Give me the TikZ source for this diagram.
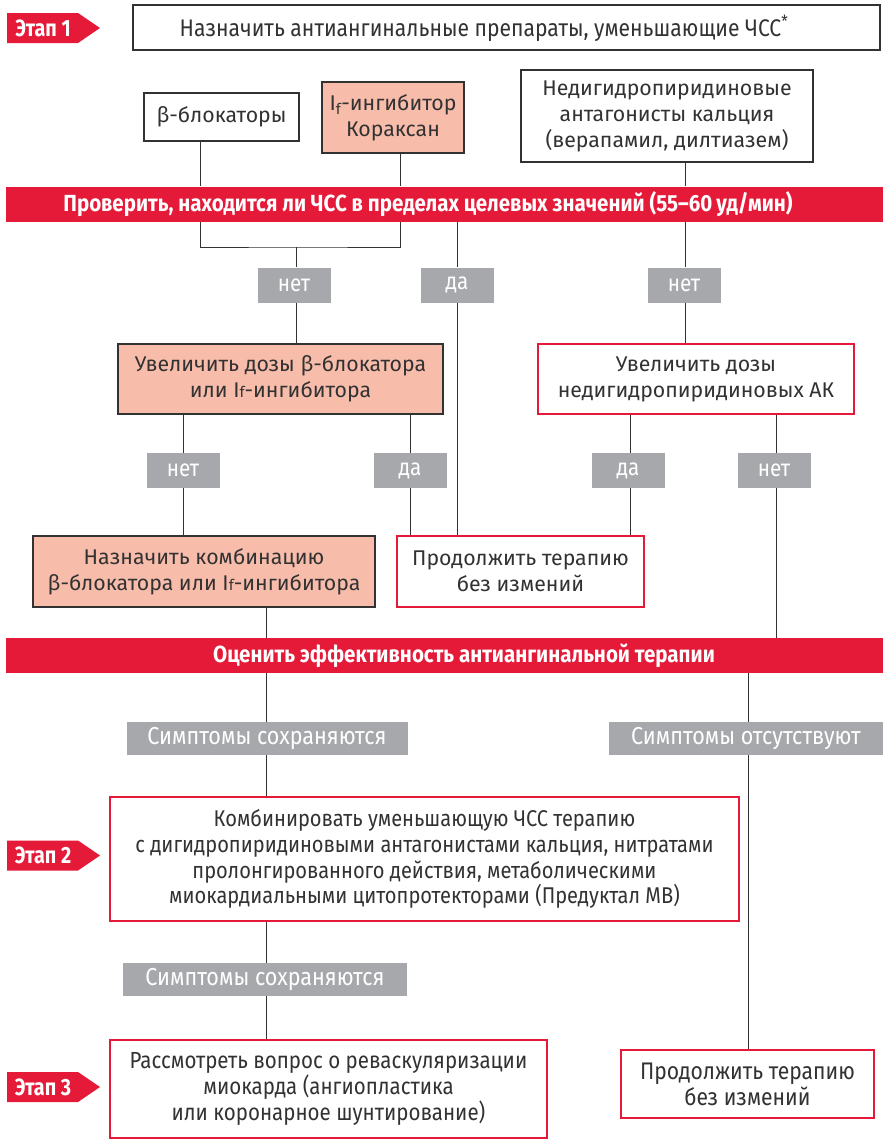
\documentclass[tikz,border=0pt]{standalone}
\usepackage{fontspec}
\setmainfont{Fira Sans}
\newfontfamily\condf{Fira Sans}[FakeStretch=0.88]
\newfontfamily\tagf{Fira Sans}[FakeStretch=0.84]
\definecolor{rd}{RGB}{228,26,56}
\definecolor{sal}{RGB}{248,188,171}
\definecolor{gr}{RGB}{166,168,171}
\definecolor{dk}{RGB}{50,50,50}
\newcommand\stagetag[3]{% name, y-centre, text
  \fill[rd] (7,#2-15) -- (78,#2-15) -- (100,#2) -- (78,#2+15) -- (7,#2+15) -- cycle;
  \node[tagtext] (#1) at (43,#2) {#3};}
\begin{document}
\begin{tikzpicture}[x=1pt,y=-1pt,
  box/.style={draw=dk, line width=1.3pt, fill=white, inner sep=0pt, align=center,
    font=\fontsize{21.3}{26}\selectfont, text=dk},
  salbox/.style={box, fill=sal},
  redbox/.style={box, draw=rd, line width=1.1pt},
  cbox/.style={redbox, font=\condf\fontsize{22.8}{25.8}\selectfont},
  lab/.style={fill=gr, text=white, inner sep=0pt, minimum height=33pt,
    font=\condf\fontsize{23.5}{24}\selectfont},
  clab/.style={lab, font=\condf\fontsize{24.5}{26}\selectfont},
  bar/.style={fill=rd, minimum width=877pt, minimum height=35pt, inner sep=0pt},
  bartext/.style={text=white, font=\condf\bfseries\fontsize{23.3}{25}\selectfont, inner sep=0pt},
  tagtext/.style={text=white, inner sep=0pt, font=\tagf\bfseries\fontsize{23.5}{24}\selectfont},
  conn/.style={draw=dk, line width=1pt}]
\fill[white] (0,0) rectangle (883,1141);
\useasboundingbox (0,0) rectangle (883,1141);
% columns
\coordinate (cA) at (200,0);
\coordinate (cB) at (400,0);
\coordinate (cC) at (296,0);
\coordinate (cD) at (457,0);
\coordinate (cE) at (685,0);
\coordinate (cF) at (183,0);
\coordinate (cG) at (410,0);
\coordinate (cH) at (630,0);
\coordinate (cI) at (776,0);
\coordinate (cJ) at (266,0);
\coordinate (cK) at (748,0);
\coordinate (jm) at (296,247);
% stage 1
\stagetag{tag1}{28}{Этап 1}
\node[box, minimum width=747pt, minimum height=45pt] (top) at (506.5,27.5) {};
\node[font=\condf\fontsize{24}{26}\selectfont, text=dk, inner sep=0pt] (toptxt) at (484,28)
  {Назначить антиангинальные препараты, уменьшающие ЧСС\textsuperscript{*}};
\node[box, minimum width=155pt, minimum height=48pt] (bb) at (221.5,117) {β-блокаторы};
\node[salbox, minimum width=142pt, minimum height=71pt] (ifb) at (393,117.5)
  {I\textsubscript{f}-ингибитор\\Кораксан};
\node[box, minimum width=292pt, minimum height=92pt] (ndp) at (667,116)
  {Недигидропиридиновые\\антагонисты кальция\\(верапамил, дилтиазем)};
\node[bar] (bar1) at (444.5,204) {};
\node[bartext] (bar1txt) at (428,204)
  {Проверить, находится ли ЧСС в пределах целевых значений (55–60\,уд/мин)};
\node[lab, minimum width=73pt, minimum height=35pt] (n1) at (294,285) {нет};
\node[lab, minimum width=73pt, minimum height=35pt] (d1) at (457,285) {да};
\node[lab, minimum width=73pt, minimum height=35pt] (n2) at (684,285) {нет};
\node[salbox, minimum width=325pt, minimum height=70pt] (inc1) at (280.5,379)
  {Увеличить дозы β-блокатора\\или I{\fontsize{15}{15}\selectfont f}-ингибитора};
\node[redbox, minimum width=316pt, minimum height=70pt] (inc2) at (696,379)
  {Увеличить дозы\\недигидропиридиновых АК};
\node[lab, minimum width=73pt, minimum height=35pt] (n3) at (183,470.5) {нет};
\node[lab, minimum width=73pt, minimum height=35pt] (d2) at (410,470.5) {да};
\node[lab, minimum width=73pt, minimum height=35pt] (d3) at (628,470.5) {да};
\node[lab, minimum width=73pt, minimum height=35pt] (n4) at (774,470.5) {нет};
\node[salbox, minimum width=342pt, minimum height=71pt] (comb) at (204,571.5)
  {Назначить комбинацию\\β-блокатора или I{\fontsize{15}{15}\selectfont f}-ингибитора};
\node[redbox, minimum width=247pt, minimum height=71pt] (cont1) at (520.5,571.5)
  {Продолжить терапию\\без измений};
\node[bar] (bar2) at (444.5,655.5) {};
\node[bartext] (bar2txt) at (464,656) {Оценить эффективность антиангинальной терапии};
\node[clab, minimum width=281pt] (s1) at (267,738.5) {Симптомы сохраняются};
\node[clab, minimum width=274pt] (s2) at (746,738.5) {Симптомы отсутствуют};
\stagetag{tag2}{855.5}{Этап 2}
\node[cbox, minimum width=629pt, minimum height=124pt] (comb2) at (424.5,859)
  {Комбинировать уменьшающую ЧСС терапию\\с дигидропиридиновыми антагонистами кальция, нитратами\\пролонгированного действия, метаболическими\\миокардиальными цитопротекторами (Предуктал МВ)};
\node[clab, minimum width=284pt] (s3) at (265,979.5) {Симптомы сохраняются};
\stagetag{tag3}{1087}{Этап 3}
\node[cbox, font=\condf\fontsize{23.3}{26}\selectfont, minimum width=437pt, minimum height=98pt] (rev) at (328.5,1089)
  {Рассмотреть вопрос о реваскуляризации\\миокарда (ангиопластика\\или коронарное шунтирование)};
\node[cbox, font=\condf\fontsize{24}{26}\selectfont, minimum width=253pt, minimum height=68pt] (cont2) at (747.5,1084)
  {Продолжить терапию\\без измений};
% connectors
\draw[conn] (bb.south -| cA) -- (bar1.north -| cA);
\draw[conn] (ifb.south -| cB) -- (bar1.north -| cB);
\draw[conn] (ndp.south -| cE) -- (bar1.north -| cE);
\draw[conn] (bar1.south -| cA) |- (jm) -| (bar1.south -| cB);
\draw[conn] (jm) -- (n1.north -| cC);
\draw[conn] (n1.south -| cC) -- (inc1.north -| cC);
\draw[conn] (bar1.south -| cD) -- (d1.north);
\draw[conn] (d1.south) -- (cont1.north -| cD);
\draw[conn] (bar1.south -| cE) -- (n2.north -| cE);
\draw[conn] (n2.south -| cE) -- (inc2.north -| cE);
\draw[conn] (inc1.south -| cF) -- (n3.north);
\draw[conn] (n3.south) -- (comb.north -| cF);
\draw[conn] (inc1.south -| cG) -- (d2.north);
\draw[conn] (d2.south) -- (cont1.north -| cG);
\draw[conn] (inc2.south -| cH) -- (d3.north -| cH);
\draw[conn] (d3.south -| cH) -- (cont1.north -| cH);
\draw[conn] (inc2.south -| cI) -- (n4.north -| cI);
\draw[conn] (n4.south -| cI) -- (bar2.north -| cI);
\draw[conn] (comb.south -| cJ) -- (bar2.north -| cJ);
\draw[conn] (bar2.south -| cJ) -- (s1.north -| cJ);
\draw[conn] (s1.south -| cJ) -- (comb2.north -| cJ);
\draw[conn] (bar2.south -| cK) -- (s2.north -| cK);
\draw[conn] (s2.south -| cK) -- (cont2.north -| cK);
\draw[conn] (comb2.south -| cJ) -- (s3.north -| cJ);
\draw[conn] (s3.south -| cJ) -- (rev.north -| cJ);
\end{tikzpicture}
\end{document}
